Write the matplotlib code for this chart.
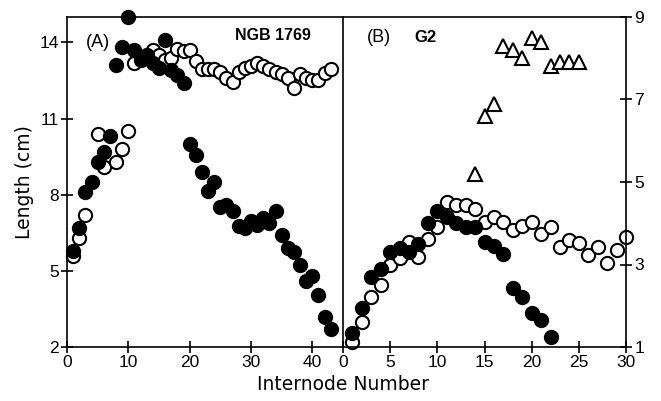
import matplotlib
matplotlib.use("Agg")
import matplotlib.pyplot as plt

plt.rcParams["font.family"] = ["Liberation Sans", "DejaVu Sans"]

# Panel A: NGB 1769 (left axis, cm)
a_filled_x = list(range(1, 44))
a_filled_y = [5.8, 6.7, 8.1, 8.5, 9.3, 9.7, 10.3, 13.1, 13.8, 15.0,
              13.7, 13.3, 13.5, 13.2, 13.0, 14.1, 12.9, 12.7, 12.4, 10.0,
              9.55, 8.9, 8.15, 8.5, 7.5, 7.6, 7.35, 6.75, 6.7, 6.95,
              6.8, 7.1, 6.9, 7.35, 6.4, 5.9, 5.75, 5.25, 4.6, 4.8,
              4.05, 3.2, 2.7]
a_open_x = [1, 2, 3, 5, 6, 8, 9, 10] + list(range(11, 44))
a_open_y = [5.6, 6.3, 7.2, 10.4, 9.1, 9.3, 9.8, 10.5,
            13.2, 13.4, 13.5, 13.7, 13.5, 13.3, 13.4, 13.75, 13.65, 13.7,
            13.25, 12.95, 12.95, 12.95, 12.85, 12.6, 12.45, 12.85, 13.0, 13.05,
            13.2, 13.05, 12.95, 12.85, 12.75, 12.6, 12.2, 12.75, 12.6, 12.5,
            12.5, 12.8, 12.95]

# Panel B: G2 (right axis, cm)
b_filled_x = list(range(1, 23))
b_filled_y = [1.33, 1.95, 2.7, 2.9, 3.3, 3.4, 3.3, 3.5, 4.0, 4.3,
              4.15, 4.0, 3.9, 3.92, 3.55, 3.45, 3.25, 2.42, 2.22, 1.82,
              1.65, 1.25]
b_open_x = list(range(1, 31))
b_open_y = [1.13, 1.61, 2.22, 2.5, 2.99, 3.15, 3.55, 3.19, 3.61, 3.9,
            4.52, 4.44, 4.44, 4.35, 4.04, 4.16, 4.04, 3.84, 3.93, 4.04,
            3.74, 3.92, 3.43, 3.59, 3.53, 3.23, 3.43, 3.03, 3.35, 3.67]
b_tri_x = list(range(14, 26))
b_tri_y = [5.2, 6.6, 6.9, 8.3, 8.2, 8.0, 8.5, 8.4, 7.8, 7.9, 7.9, 7.9]

a_yticks = [2, 5, 8, 11, 14]
a_xticks = [0, 10, 20, 30, 40]
b_yticks = [1, 3, 5, 7, 9]
b_xticks = [0, 5, 10, 15, 20, 25, 30]

W, H = 661, 401
fig = plt.figure(figsize=(W / 100, H / 100), dpi=100)
bottom = 1 - 347 / H
height = (347 - 17) / H
ax_a = fig.add_axes([67 / W, bottom, (343 - 67) / W, height])
ax_b = fig.add_axes([343 / W, bottom, (626 - 343) / W, height])

ms = 9.5
mew = 1.5
open_style = dict(ls="none", marker="o", ms=ms, mfc="white", mec="black", mew=mew, clip_on=False)
fill_style = dict(ls="none", marker="o", ms=ms, mfc="black", mec="black", mew=mew, clip_on=False)

ax_a.plot(a_open_x, a_open_y, **open_style)
ax_a.plot(a_filled_x, a_filled_y, **fill_style)
ax_b.plot(b_open_x, b_open_y, **open_style)
ax_b.plot(b_filled_x, b_filled_y, **fill_style)
ax_b.plot(b_tri_x, b_tri_y, ls="none", marker="^", ms=10, mfc="white",
          mec="black", mew=mew, clip_on=False)

ax_a.set_xlim(0, 45)
ax_a.set_ylim(2, 15)
ax_a.set_xticks(a_xticks)
ax_a.set_yticks(a_yticks)
ax_a.spines["right"].set_visible(False)

ax_b.set_xlim(0, 30)
ax_b.set_ylim(1, 9)
ax_b.set_xticks(b_xticks)
ax_b.set_yticks(b_yticks)
ax_b.yaxis.tick_right()

for ax in (ax_a, ax_b):
    for sp in ax.spines.values():
        sp.set_linewidth(1.2)
    ax.tick_params(direction="inout", length=8, width=1.2, labelsize=12.5, pad=2)
    ax.tick_params(axis="x", top=False)
ax_a.tick_params(axis="y", right=False)
ax_b.tick_params(axis="y", left=False)

ax_a.text(0.112, 0.924, "(A)", transform=ax_a.transAxes, fontsize=13,
          ha="center", va="center")
ax_a.text(0.746, 0.945, "NGB 1769", transform=ax_a.transAxes, fontsize=11.5,
          fontweight="bold", ha="center", va="center")
ax_b.text(0.127, 0.939, "(B)", transform=ax_b.transAxes, fontsize=13,
          ha="center", va="center")
ax_b.text(0.29, 0.939, "G2", transform=ax_b.transAxes, fontsize=12,
          fontweight="bold", ha="center", va="center")

fig.text(25 / W, 1 - 182 / H, "Length (cm)", rotation=90, fontsize=13.5,
         family="DejaVu Sans", ha="center", va="center")
fig.text(343 / W, 1 - 384 / H, "Internode Number", fontsize=13.5,
         family="DejaVu Sans", ha="center", va="center")

fig.savefig("out.png", dpi=100)
